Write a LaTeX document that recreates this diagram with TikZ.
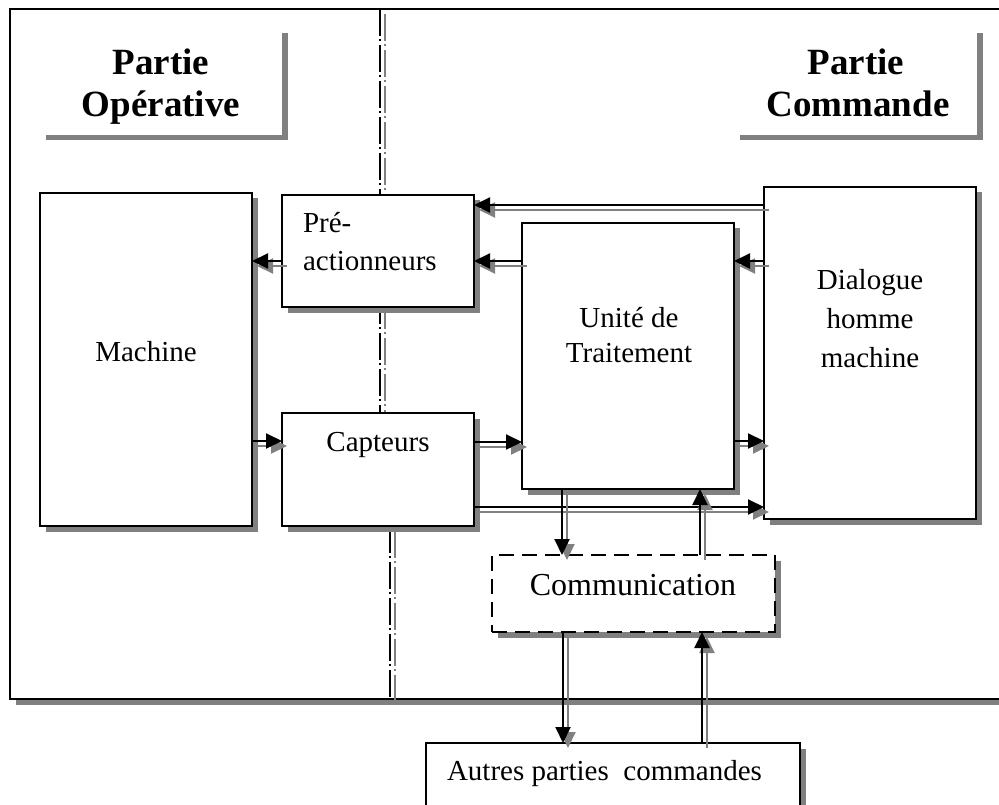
\documentclass[tikz,border=0pt]{standalone}
\usepackage{fontspec}
\setmainfont{Liberation Serif}
\usetikzlibrary{arrows.meta,shadows,calc}
\definecolor{shd}{RGB}{128,128,128}
\tikzset{
  shdw/.style={drop shadow={shadow xshift=5.5pt,shadow yshift=-5.5pt,fill=shd,opacity=1}},
  blkbox/.style={draw=black,line width=2pt,fill=white,shdw,outer sep=0pt,inner sep=0pt,anchor=north west},
  dashbox/.style={blkbox,dash pattern=on 15pt off 8pt},
  titlebox/.style={fill=white,draw=none,shdw,outer sep=0pt,inner sep=0pt,anchor=north west},
  lbl/.style={inner sep=0pt,outer sep=0pt,font=\fontsize{29pt}{35pt}\selectfont},
  biglbl/.style={inner sep=0pt,outer sep=0pt,font=\fontsize{32pt}{38pt}\selectfont},
  ttl/.style={inner sep=0pt,outer sep=0pt,anchor=base,font=\fontsize{37pt}{42pt}\selectfont\bfseries},
  arr/.style={line width=2pt,draw=black,-{Triangle[length=16pt,width=15pt]}},
  arrs/.style={line width=2pt,draw=shd,-{Triangle[length=16pt,width=15pt,fill=shd]},transform canvas={shift={(5,5)}}},
  ddot/.style={line width=2pt,draw=black,dash pattern=on 27pt off 3pt on 2pt off 4pt},
  ddots/.style={line width=1.8pt,draw=shd,dash pattern=on 27pt off 3pt on 2pt off 4pt,transform canvas={shift={(5,5)}}},
}
\begin{document}
\begin{tikzpicture}[x=1pt,y=-1pt]
\useasboundingbox (0,0) rectangle (999,805);
\clip (0,0) rectangle (999,805);
\fill[white] (0,0) rectangle (999,805);
% outer frame
\node[blkbox,minimum width=1030pt,minimum height=690pt] (frame) at (10,9) {};
% separator
\coordinate (sepA) at (380,9);
\coordinate (sepB) at (380,526);
\coordinate (sepC) at (390,526);
\coordinate (sepD) at (390,699);
\draw[ddots] (sepA) -- (sepB);
\draw[ddot] (sepA) -- (sepB);
\draw[ddots] (sepC) -- (sepD);
\draw[ddot] (sepC) -- (sepD);
% titles
\node[titlebox,minimum width=242pt,minimum height=107pt] (tPO) at (40,28) {};
\node[ttl] (tPOa) at (161,75) {Partie};
\node[ttl] (tPOb) at (161,117) {Opérative};
\node[titlebox,minimum width=243pt,minimum height=107pt] (tPC) at (734,28) {};
\node[ttl] (tPCa) at (856,75) {Partie};
\node[ttl] (tPCb) at (858,117) {Commande};
% boxes
\node[blkbox,minimum width=212pt,minimum height=333pt] (mach) at (40,193) {};
\node[blkbox,minimum width=192pt,minimum height=112pt] (pre) at (282,195) {};
\node[blkbox,minimum width=192pt,minimum height=113pt] (capt) at (282,413) {};
\node[blkbox,minimum width=212pt,minimum height=266pt] (unit) at (522,223) {};
\node[blkbox,minimum width=212pt,minimum height=332pt] (dial) at (764,187) {};
\node[dashbox,minimum width=283pt,minimum height=77pt] (comm) at (492,555) {};
\node[blkbox,minimum width=374pt,minimum height=100pt] (autr) at (426,743) {};
% labels
\node[lbl,anchor=base] (machT) at (146,361) {Machine};
\node[lbl,anchor=base west] (preA) at (303,233) {Pré-};
\node[lbl,anchor=base west] (preB) at (303,271) {actionneurs};
\node[lbl,anchor=base] (captT) at (378,451) {Capteurs};
\node[lbl,anchor=base] (unitA) at (629,327) {Unité de};
\node[lbl,anchor=base] (unitB) at (629,362) {Traitement};
\node[lbl,anchor=base] (dialA) at (870,289) {Dialogue};
\node[lbl,anchor=base] (dialB) at (870,328) {homme};
\node[lbl,anchor=base] (dialC) at (870,367) {machine};
\node[biglbl,anchor=base] (commT) at (633,595) {Communication};
\node[lbl,anchor=base west] (autrT) at (447,780) {Autres parties\ \ commandes};
% arrows
\draw[arrs] (dial.west |- 0,205) -- (pre.east |- 0,205);
\draw[arr]  (dial.west |- 0,205) -- (pre.east |- 0,205);
\draw[arrs] (unit.west |- 0,261) -- (pre.east |- 0,261);
\draw[arr]  (unit.west |- 0,261) -- (pre.east |- 0,261);
\draw[arrs] (pre.west |- 0,261) -- (mach.east |- 0,261);
\draw[arr]  (pre.west |- 0,261) -- (mach.east |- 0,261);
\draw[arrs] (dial.west |- 0,261) -- (unit.east |- 0,261);
\draw[arr]  (dial.west |- 0,261) -- (unit.east |- 0,261);
\draw[arrs] (mach.east |- 0,441) -- (capt.west |- 0,441);
\draw[arr]  (mach.east |- 0,441) -- (capt.west |- 0,441);
\draw[arrs] (capt.east |- 0,442) -- (unit.west |- 0,442);
\draw[arr]  (capt.east |- 0,442) -- (unit.west |- 0,442);
\draw[arrs] (unit.east |- 0,441) -- (dial.west |- 0,441);
\draw[arr]  (unit.east |- 0,441) -- (dial.west |- 0,441);
\draw[arrs] (capt.east |- 0,507) -- (dial.west |- 0,507);
\draw[arr]  (capt.east |- 0,507) -- (dial.west |- 0,507);
\draw[arrs] (unit.south -| 562,0) -- (comm.north -| 562,0);
\draw[arr]  (unit.south -| 562,0) -- (comm.north -| 562,0);
\draw[arrs] (comm.north -| 700,0) -- (unit.south -| 700,0);
\draw[arr]  (comm.north -| 700,0) -- (unit.south -| 700,0);
\draw[arrs] (comm.south -| 563,0) -- (autr.north -| 563,0);
\draw[arr]  (comm.south -| 563,0) -- (autr.north -| 563,0);
\draw[arrs] (autr.north -| 702,0) -- (comm.south -| 702,0);
\draw[arr]  (autr.north -| 702,0) -- (comm.south -| 702,0);
\end{tikzpicture}
\end{document}
